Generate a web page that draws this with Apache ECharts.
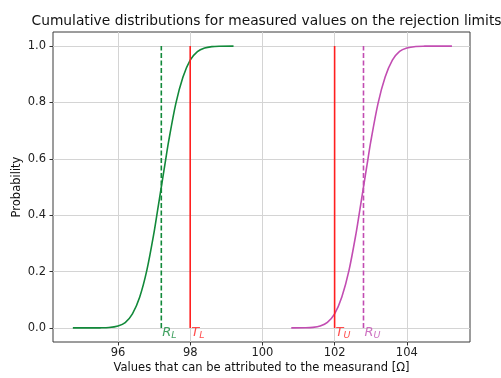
<!DOCTYPE html>
<html>
<head>
<meta charset="utf-8">
<script src="https://cdn.jsdelivr.net/npm/echarts@6/dist/echarts.min.js"></script>
<style>
  html, body { margin: 0; padding: 0; background: #fff; }
  #chart { width: 501px; height: 378px; }
</style>
</head>
<body>
<div id="chart"></div>
<script>
// Cumulative distribution of the measured value when the true value sits on the lower limit
const lowerX = [94.75, 95.25, 95.5, 95.75, 96.0, 96.2, 96.4, 96.6, 96.8, 97.0, 97.1, 97.2, 97.3, 97.4, 97.6, 97.8, 98.0, 98.2, 98.4, 98.6, 98.8, 99.2];
const lowerP = [0.0, 0.0, 0.0002, 0.0014, 0.007, 0.019, 0.05, 0.109, 0.205, 0.34, 0.42, 0.5, 0.58, 0.66, 0.795, 0.89, 0.95, 0.98, 0.993, 0.998, 0.9995, 1.0];

// ... and when it sits on the upper limit
const upperX = [100.8, 101.2, 101.4, 101.6, 101.8, 102.0, 102.2, 102.4, 102.6, 102.7, 102.8, 102.9, 103.0, 103.2, 103.4, 103.6, 103.8, 104.0, 104.25, 104.5, 104.75, 105.25];
const upperP = [0.0, 0.0005, 0.002, 0.007, 0.02, 0.05, 0.11, 0.205, 0.34, 0.42, 0.5, 0.58, 0.66, 0.795, 0.89, 0.95, 0.981, 0.993, 0.9986, 0.9998, 1.0, 1.0];

// Tolerance limits and rejection limits
const tolLower = 98;
const tolUpper = 102;
const rejLower = 97.2;
const rejUpper = 102.8;

const xTicks = [96, 98, 100, 102, 104];
const yTicks = [0, 0.2, 0.4, 0.6, 0.8, 1.0];

const GREEN = '#12893a';
const RED = '#ff1f1f';
const MAGENTA = '#c24db2';
const FONT = 'DejaVu Sans';

const pairs = (xs, ys) => xs.map((x, i) => [x, ys[i]]);
const vline = (x) => [[x, 0], [x, 1]];

function vertical(x, color, type) {
  return {
    type: 'line', data: vline(x), symbol: 'none', silent: true,
    lineStyle: { color: color, width: 1.6, type: type }, z: 3
  };
}

function limitLabel(x, main, sub, color) {
  return {
    type: 'scatter', data: [[x, 0]], symbolSize: 0, silent: true, z: 4,
    label: {
      show: true, position: [1, -3],
      formatter: '{m|' + main + '}{s|' + sub + '}',
      rich: {
        m: { fontFamily: FONT, fontStyle: 'italic', fontSize: 13, color: color, lineHeight: 15 },
        s: { fontFamily: FONT, fontStyle: 'italic', fontSize: 9.5, color: color, padding: [7, 0, 0, 0], lineHeight: 15 }
      }
    }
  };
}

const chart = echarts.init(document.getElementById('chart'), null, { renderer: 'canvas' });

chart.setOption({
  animation: false,
  backgroundColor: '#fff',
  title: {
    text: 'Cumulative distributions for measured values on the rejection limits',
    left: 261.5, top: 9, textAlign: 'center',
    textStyle: { fontFamily: FONT, fontSize: 13.8, fontWeight: 'normal', color: '#111' }
  },
  grid: {
    left: 53, right: 31, top: 32, bottom: 36,
    outerBoundsMode: 'none', containLabel: false,
    show: true, borderColor: '#3a3a3a', borderWidth: 1, backgroundColor: 'transparent'
  },
  xAxis: {
    type: 'value', min: 94.2, max: 105.75,
    name: 'Values that can be attributed to the measurand [Ω]',
    nameLocation: 'middle', nameGap: 20, nameMoveOverlap: false,
    nameTextStyle: { fontFamily: FONT, fontSize: 11.5, color: '#111' },
    axisLine: { show: false, onZero: false },
    axisTick: { show: true, customValues: xTicks, length: 3.5, lineStyle: { color: '#333' } },
    axisLabel: { customValues: xTicks, margin: 5, fontFamily: FONT, fontSize: 11.5, color: '#222' },
    splitLine: { show: true, lineStyle: { color: '#d4d4d4', width: 1 } }
  },
  yAxis: {
    type: 'value', min: -0.05, max: 1.05,
    name: 'Probability', nameLocation: 'middle', nameGap: 30, nameMoveOverlap: false,
    nameTextStyle: { fontFamily: FONT, fontSize: 11.5, color: '#111' },
    axisLine: { show: false, onZero: false },
    axisTick: { show: true, customValues: yTicks, length: 3.5, lineStyle: { color: '#333' } },
    axisLabel: {
      customValues: yTicks, margin: 7, fontFamily: FONT, fontSize: 11.5, color: '#222',
      formatter: (v) => v.toFixed(1)
    },
    splitLine: { show: true, lineStyle: { color: '#d4d4d4', width: 1 } }
  },
  series: [
    { type: 'line', data: pairs(lowerX, lowerP), smooth: 0.3, symbol: 'none', lineStyle: { color: GREEN, width: 1.6 }, z: 2 },
    { type: 'line', data: pairs(upperX, upperP), smooth: 0.3, symbol: 'none', lineStyle: { color: MAGENTA, width: 1.6 }, z: 2 },
    vertical(rejLower, GREEN, [5, 2.5]),
    vertical(tolLower, RED, 'solid'),
    vertical(tolUpper, RED, 'solid'),
    vertical(rejUpper, MAGENTA, [5, 2.5]),
    limitLabel(rejLower, 'R', 'L', GREEN),
    limitLabel(tolLower, 'T', 'L', RED),
    limitLabel(tolUpper, 'T', 'U', RED),
    limitLabel(rejUpper, 'R', 'U', MAGENTA)
  ]
});
</script>
</body>
</html>
